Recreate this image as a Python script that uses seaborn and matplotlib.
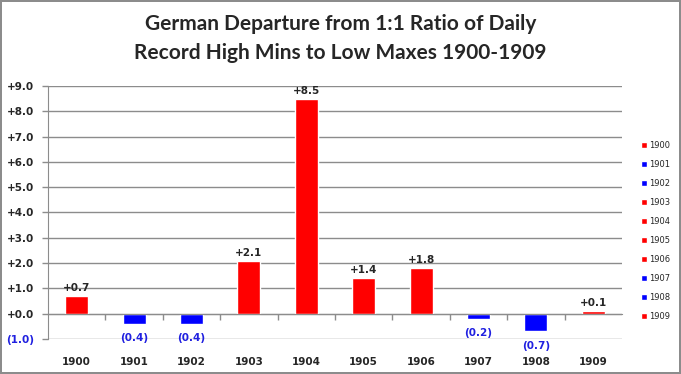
import matplotlib
matplotlib.use("Agg")
import matplotlib.pyplot as plt
import seaborn as sns
import pandas as pd

# data
years = ["1900", "1901", "1902", "1903", "1904", "1905", "1906", "1907", "1908", "1909"]
values = [0.7, -0.4, -0.4, 2.1, 8.5, 1.4, 1.8, -0.2, -0.7, 0.1]
ytick_vals = [-1, 0, 1, 2, 3, 4, 5, 6, 7, 8, 9]
title = "German Departure from 1:1 Ratio of Daily\nRecord High Mins to Low Maxes 1900-1909"

RED = "#FF0000"
BLUE = "#0000FF"
LBLUE = "#2020E0"
GRID = "#8C8C8C"

df = pd.DataFrame({"year": years, "value": values})
palette = {y: (RED if v >= 0 else BLUE) for y, v in zip(years, values)}

sns.set_style("white")
plt.rcParams['font.family'] = ['DejaVu Sans']

fig = plt.figure(figsize=(6.81, 3.74), dpi=100, edgecolor="#8C8C8C", linewidth=1.5)
ax = fig.add_axes([48 / 681, 35 / 374, 574 / 681, 253 / 374])

sns.barplot(data=df, x="year", y="value", hue="year", palette=palette,
            dodge=False, width=0.4, saturation=1, ax=ax, legend=True)

ax.set_ylim(-1, 9)
ax.set_xlim(-0.5, 9.5)
ax.set_yticks(ytick_vals)
ax.set_yticklabels(["(1.0)" if t < 0 else "+%.1f" % t for t in ytick_vals],
                   fontsize=7.5, fontweight="bold")
ax.get_yticklabels()[0].set_color(LBLUE)
ax.tick_params(axis="y", length=4, color=GRID, width=1, pad=6, left=True)
ax.yaxis.grid(True, color=GRID, linewidth=1)
ax.set_axisbelow(True)

# category axis crosses at zero, labels stay at the bottom
for s in ["top", "right"]:
    ax.spines[s].set_visible(False)
ax.spines["left"].set_color(GRID)
ax.spines["bottom"].set_position(("data", 0))
ax.spines["bottom"].set_color(GRID)
ax.set_xticks([i + 0.5 for i in range(9)], minor=True)
ax.tick_params(axis="x", which="minor", length=4, color=GRID, width=1, bottom=True)
ax.tick_params(axis="x", which="major", length=0, pad=31)
ax.set_xticklabels(years, fontsize=7.5, fontweight="bold")
ax.set_xlabel("")
ax.set_ylabel("")

for i, v in enumerate(values):
    if v >= 0:
        ax.text(i, v + 0.12, "+%.1f" % v, ha="center", va="bottom",
                fontsize=7.5, fontweight="bold")
    else:
        ax.text(i, v - 0.38, "(%.1f)" % abs(v), ha="center", va="top",
                fontsize=7.5, fontweight="bold", color=LBLUE)

fig.text(0.5, 0.898, title, ha="center", va="center", fontsize=15,
         fontweight="bold", family=["Lato", "DejaVu Sans"], linespacing=1.55)

leg = ax.legend(loc="center left", bbox_to_anchor=(1.02, 0.427), frameon=False,
                fontsize=6, handlelength=0.7, handleheight=0.7,
                labelspacing=1.2, handletextpad=0.3)

fig.savefig("out.png", dpi=100, edgecolor=fig.get_edgecolor())
